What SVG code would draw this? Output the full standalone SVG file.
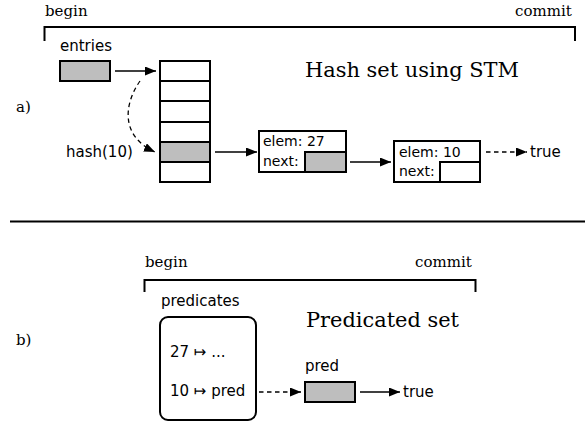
<svg xmlns="http://www.w3.org/2000/svg" width="585" height="423" viewBox="0 0 585 423">
<defs>
<marker id="ah" viewBox="0 0 11 9" refX="11" refY="4.5" markerWidth="11" markerHeight="9" markerUnits="userSpaceOnUse" orient="auto">
<path d="M0,0 L11,4.5 L0,9 Z" fill="#000"/>
</marker>
</defs>
<style>
.serif{font-family:"DejaVu Serif","Liberation Serif",serif;font-size:15px;fill:#000}
.title{font-family:"DejaVu Serif","Liberation Serif",serif;font-size:21px;fill:#000}
.sans{font-family:"DejaVu Sans","Liberation Sans",sans-serif;font-size:15px;fill:#000}
.small{font-family:"DejaVu Sans","Liberation Sans",sans-serif;font-size:14px;fill:#000}
.box{fill:#fff;stroke:#000;stroke-width:2}
.gray{fill:#bebebe;stroke:#000;stroke-width:2}
.line{fill:none;stroke:#000;stroke-width:2}
.conn{fill:none;stroke:#000;stroke-width:1.3;marker-end:url(#ah)}
.dash{stroke-dasharray:4.5,3.5}
</style>
<rect width="585" height="423" fill="#fff"/>

<!-- part a -->
<g id="a-bracket">
<text class="serif" x="45" y="16">begin</text>
<text class="serif" x="515" y="16">commit</text>
<path class="line" d="M44.5,41 V27 H575 V41"/>
</g>
<text class="serif" x="16" y="112">a)</text>
<text class="title" x="305" y="77" textLength="214" lengthAdjust="spacingAndGlyphs">Hash set using STM</text>

<g id="entries">
<text class="sans" x="60" y="51">entries</text>
<rect class="gray" x="60" y="61" width="50" height="20"/>
</g>

<g id="hashtable">
<rect class="box" x="160" y="61" width="50" height="20"/>
<rect class="box" x="160" y="81" width="50" height="20"/>
<rect class="box" x="160" y="101" width="50" height="21"/>
<rect class="box" x="160" y="122" width="50" height="20"/>
<rect class="gray" x="160" y="142" width="50" height="20"/>
<rect class="box" x="160" y="162" width="50" height="20"/>
</g>
<text class="sans" x="66" y="157">hash(10)</text>

<g id="node27">
<rect class="box" x="259" y="131" width="87" height="41"/>
<rect class="gray" x="305" y="152" width="41" height="20"/>
<text class="small" x="263" y="146">elem: 27</text>
<text class="small" x="263" y="166">next:</text>
</g>

<g id="node10">
<rect class="box" x="394" y="141" width="86" height="41"/>
<rect class="box" x="440" y="162" width="40" height="20"/>
<text class="small" x="399" y="157">elem: 10</text>
<text class="small" x="399" y="176">next:</text>
</g>
<text class="sans" x="530" y="157">true</text>

<line x1="10" y1="221.5" x2="585" y2="221.5" stroke="#000" stroke-width="2"/>

<!-- part b -->
<g id="b-bracket">
<text class="serif" x="145" y="267">begin</text>
<text class="serif" x="415" y="267">commit</text>
<path class="line" d="M144.5,292 V280 H475.5 V292"/>
</g>
<text class="serif" x="16" y="345">b)</text>
<text class="title" x="306" y="327" textLength="153" lengthAdjust="spacingAndGlyphs">Predicated set</text>

<g id="predicates">
<text class="sans" x="161" y="306">predicates</text>
<rect class="box" x="160" y="317" width="96" height="103" rx="8"/>
<text class="sans" x="170" y="357">27 ↦ ...</text>
<text class="sans" x="170" y="396">10 ↦ pred</text>
</g>

<g id="pred">
<text class="sans" x="305" y="371">pred</text>
<rect class="gray" x="305" y="382" width="50" height="20"/>
</g>
<text class="sans" x="403" y="397">true</text>

<g id="connectors">
<line class="conn" x1="115" y1="71" x2="156" y2="71"/>
<path class="conn dash" d="M140,81 C124,104 120,136 155,152"/>
<line class="conn" x1="215" y1="152" x2="257" y2="152"/>
<line class="conn" x1="350" y1="162" x2="391" y2="162"/>
<line class="conn dash" x1="486" y1="152" x2="527" y2="152"/>
<line class="conn dash" x1="259" y1="392" x2="301" y2="392"/>
<line class="conn" x1="360" y1="392" x2="400" y2="392"/>
</g>
</svg>
